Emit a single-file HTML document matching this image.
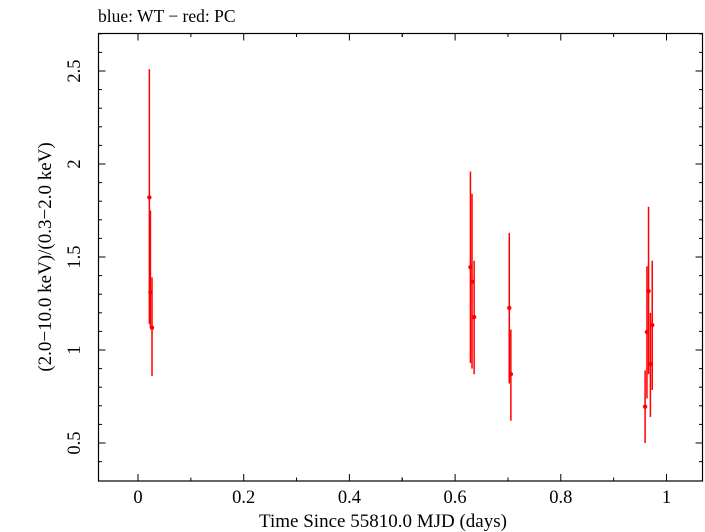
<!DOCTYPE html>
<html><head><meta charset="utf-8"><style>body{margin:0;background:#fff}svg{display:block;font-family:"Liberation Serif",serif}</style></head>
<body>
<svg width="705" height="532" viewBox="0 0 705 532" id="chart">
<text x="98" y="22" font-size="17.5">blue: WT − red: PC</text>
<rect x="98.5" y="33.5" width="604" height="447.5" fill="none" stroke="#000" stroke-width="1.2"/>
<g id="axes"></g>
<g id="marks"></g>
<text x="383" y="527" font-size="19" text-anchor="middle">Time Since 55810.0 MJD (days)</text>
<text transform="translate(51,257) rotate(-90)" font-size="19" text-anchor="middle">(2.0−10.0 keV)/(0.3−2.0 keV)</text>
</svg>
<script>
const times=[0.0215,0.0235,0.0265,0.629,0.632,0.636,0.7025,0.7055,0.9595,0.963,0.966,0.9695,0.973];
const ratios=[1.82,1.31,1.12,1.445,1.367,1.177,1.226,0.87,0.695,1.097,1.317,0.925,1.134];
const errHigh=[2.51,1.75,1.39,1.96,1.84,1.48,1.63,1.11,0.89,1.45,1.77,1.2,1.48];
const errLow=[1.14,1.12,0.86,0.93,0.90,0.87,0.82,0.62,0.50,0.74,0.87,0.64,0.785];
const xTicks=[0,0.2,0.4,0.6,0.8,1];
const xTickLabels=["0","0.2","0.4","0.6","0.8","1"];
const yTicks=[0.5,1,1.5,2,2.5];
const yTickLabels=["0.5","1","1.5","2","2.5"];
const NS="http://www.w3.org/2000/svg";
const X=t=>138+t*528.5;
const Y=v=>350-(v-1)*186;
const L=98.5,R=702.5,T=33.5,B=481;
const ax=document.getElementById('axes'),mk=document.getElementById('marks');
function el(tag,at,p){const e=document.createElementNS(NS,tag);for(const k in at)e.setAttribute(k,at[k]);p.appendChild(e);return e;}
for(let t=-0.05;t<=1.07;t+=0.1){const v=Math.round(t*10)/10;if(v<-0.07)continue;const x=X(v);const major=Math.abs(v*5-Math.round(v*5))<1e-6;const len=major?7:3.5;
const a=el('line',{x1:x,x2:x,y1:B,y2:B-len,stroke:'#000'},ax);
const b=el('line',{x1:x,x2:x,y1:T,y2:T+len,stroke:'#000'},ax);}
xTicks.forEach((t,i)=>{const tx=el('text',{x:X(t),y:503,'font-size':18.5,'text-anchor':'middle'},ax);tx.textContent=xTickLabels[i];
});
for(let v=0.4;v<=2.71;v+=0.1){const vv=Math.round(v*10)/10;const y=Y(vv);if(y<T||y>B)continue;const major=Math.abs(vv*2-Math.round(vv*2))<1e-6;const len=major?7:3.5;
const a=el('line',{x1:L,x2:L+len,y1:y,y2:y,stroke:'#000'},ax);
const b=el('line',{x1:R,x2:R-len,y1:y,y2:y,stroke:'#000'},ax);}
yTicks.forEach((v,i)=>{const tx=el('text',{transform:`translate(80,${Y(v)}) rotate(-90)`,'font-size':18.5,'text-anchor':'middle'},ax);tx.textContent=yTickLabels[i];
});
times.forEach((t,i)=>{const x=X(t);
const e=el('line',{x1:x,x2:x,y1:Y(errHigh[i]),y2:Y(errLow[i]),stroke:'#f00','stroke-width':1.5},mk);

const c=el('circle',{cx:x,cy:Y(ratios[i]),r:2.2,fill:'#f00'},mk);
});
</script>
</body></html>
